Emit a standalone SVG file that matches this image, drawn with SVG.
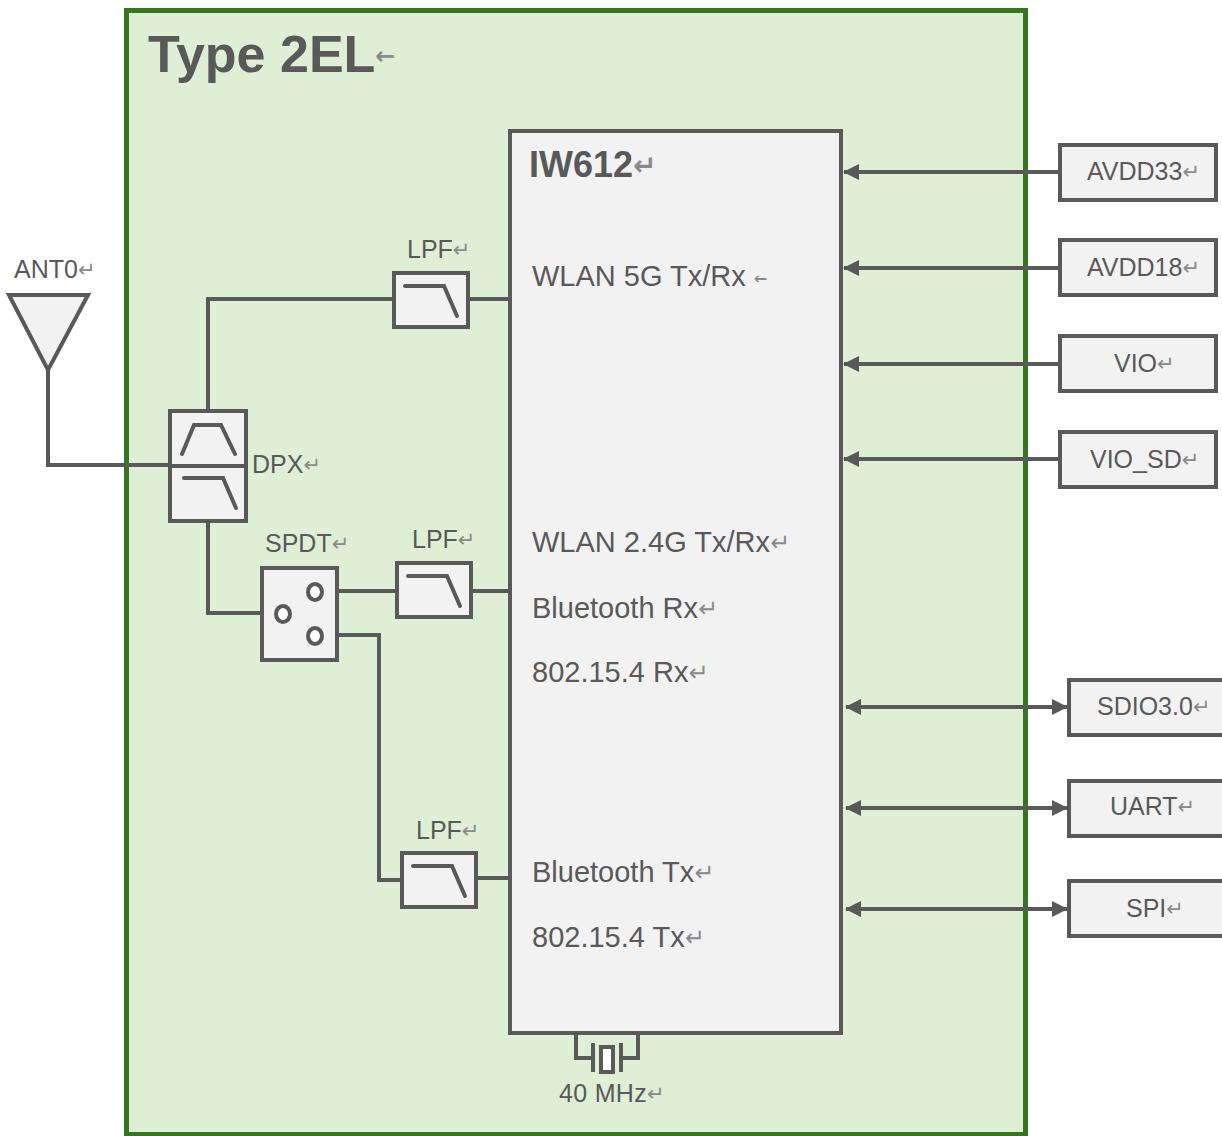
<svg xmlns="http://www.w3.org/2000/svg" width="1222" height="1136" viewBox="0 0 1222 1136">
<style>
text{font-family:"Liberation Sans",Arial,"DejaVu Sans",sans-serif;fill:#595959;font-size:25px}
.r{fill:#8a8a8a;font-family:"DejaVu Sans",sans-serif;font-size:21px}
.m{font-size:29px}
.m .r{font-size:24px}
.b{fill:#f2f2f2;stroke:#595959;stroke-width:4}
.w{fill:none;stroke:#595959;stroke-width:4}
.t{fill:none;stroke:#595959;stroke-width:4;stroke-linecap:round}
.a{stroke:#595959;stroke-width:4;fill:none}
</style>
<defs>
<marker id="h" viewBox="0 0 16 16" refX="15" refY="8" markerWidth="16" markerHeight="16" markerUnits="userSpaceOnUse" orient="auto-start-reverse"><path d="M0 0L16 8L0 16Z" fill="#595959"/></marker>
<g id="lp"><rect class="b" x="0" y="0" width="74" height="54"/><path class="t" d="M11 13H50L63 43"/></g>
</defs>
<g id="frame"><rect x="126.500" y="10.500" width="899" height="1124" fill="#deefd6" stroke="#38761d" stroke-width="5"/>
<text x="148" y="72" font-weight="700" style="font-size:52px">Type 2EL<tspan class="r" dy="-8" style="font-size:24px">←</tspan></text></g>
<g id="connectors">
<path class="w" d="M48 370V465H170"/>
<path class="w" d="M208 410V299H393M468 299H510"/>
<path class="w" d="M208 522V613H262"/>
<path class="w" d="M337 591H396M472 591H510"/>
<path class="w" d="M337 635H379V880H402M477 878H510"/>
<path class="a" marker-end="url(#h)" d="M1059 172H844"/>
<path class="a" marker-end="url(#h)" d="M1059 268H844"/>
<path class="a" marker-end="url(#h)" d="M1059 364H844"/>
<path class="a" marker-end="url(#h)" d="M1059 459H844"/>
<path class="a" marker-start="url(#h)" marker-end="url(#h)" d="M846 707H1067"/>
<path class="a" marker-start="url(#h)" marker-end="url(#h)" d="M846 808H1067"/>
<path class="a" marker-start="url(#h)" marker-end="url(#h)" d="M846 909H1067"/>
<path class="w" d="M576 1034V1058H593M638 1034V1058H621"/>
</g>
<g id="ant0"><path class="b" d="M9 295H88L48 370Z"/><text x="14" y="278">ANT0<tspan class="r" dy="-1">↵</tspan></text></g>
<g id="dpx"><rect class="b" x="170" y="411" width="76" height="110"/><path class="w" d="M170 466H246"/><path class="t" d="M182 454L194 425H221L235 454M184 478H223L236 508"/><text x="252" y="473">DPX<tspan class="r" dy="-1">↵</tspan></text></g>
<g id="lpf1"><use href="#lp" x="394" y="273"/><text x="407" y="258">LPF<tspan class="r" dy="-1">↵</tspan></text></g>
<g id="lpf2"><use href="#lp" x="397" y="563"/><text x="412" y="548">LPF<tspan class="r" dy="-1">↵</tspan></text></g>
<g id="lpf3"><use href="#lp" x="402" y="853"/><text x="416" y="839">LPF<tspan class="r" dy="-1">↵</tspan></text></g>
<g id="spdt"><rect class="b" x="262" y="568" width="75" height="92"/><ellipse cx="315" cy="592" rx="7" ry="8" fill="#fff" stroke="#595959" stroke-width="4"/><ellipse cx="283" cy="614" rx="7" ry="8" fill="#fff" stroke="#595959" stroke-width="4"/><ellipse cx="315" cy="636" rx="7" ry="8" fill="#fff" stroke="#595959" stroke-width="4"/><text x="265" y="552">SPDT<tspan class="r" dy="-1">↵</tspan></text></g>
<g id="iw612"><rect class="b" x="510" y="131" width="331" height="902"/>
<text x="529" y="177" font-weight="700" style="font-size:36px">IW612<tspan class="r" dy="-2" style="font-size:28px">↵</tspan></text>
<text class="m" x="532" y="286">WLAN 5G Tx/Rx <tspan class="r" dy="-2" style="font-size:16px;font-weight:700">←</tspan></text>
<text class="m" x="532" y="552">WLAN 2.4G Tx/Rx<tspan class="r" dy="-1">↵</tspan></text>
<text class="m" x="532" y="618">Bluetooth Rx<tspan class="r" dy="-1">↵</tspan></text>
<text class="m" x="532" y="682">802.15.4 Rx<tspan class="r" dy="-1">↵</tspan></text>
<text class="m" x="532" y="882">Bluetooth Tx<tspan class="r" dy="-1">↵</tspan></text>
<text class="m" x="532" y="947">802.15.4 Tx<tspan class="r" dy="-1">↵</tspan></text></g>
<g id="crystal"><path class="w" d="M593 1043V1072M621 1043V1072"/><rect x="601" y="1047" width="12" height="25" fill="#fff" stroke="#595959" stroke-width="4"/><text x="559" y="1102" style="letter-spacing:.3px">40 MHz<tspan class="r" dy="-1">↵</tspan></text></g>
<g id="avdd33"><rect class="b" x="1060" y="145" width="156" height="55"/><text x="1087" y="180">AVDD33<tspan class="r" dy="-1">↵</tspan></text></g>
<g id="avdd18"><rect class="b" x="1060" y="240" width="156" height="55"/><text x="1087" y="276">AVDD18<tspan class="r" dy="-1">↵</tspan></text></g>
<g id="vio"><rect class="b" x="1060" y="336" width="156" height="55"/><text x="1114" y="372">VIO<tspan class="r" dy="-1">↵</tspan></text></g>
<g id="vio_sd"><rect class="b" x="1060" y="432" width="156" height="55"/><text x="1090" y="468">VIO_SD<tspan class="r" dy="-1">↵</tspan></text></g>
<g id="sdio"><rect class="b" x="1069" y="680" width="156" height="55"/><text x="1097" y="715">SDIO3.0<tspan class="r" dy="-1">↵</tspan></text></g>
<g id="uart"><rect class="b" x="1069" y="781" width="156" height="55"/><text x="1110" y="815">UART<tspan class="r" dy="-1">↵</tspan></text></g>
<g id="spi"><rect class="b" x="1069" y="881" width="156" height="55"/><text x="1126" y="917">SPI<tspan class="r" dy="-1">↵</tspan></text></g>
</svg>
